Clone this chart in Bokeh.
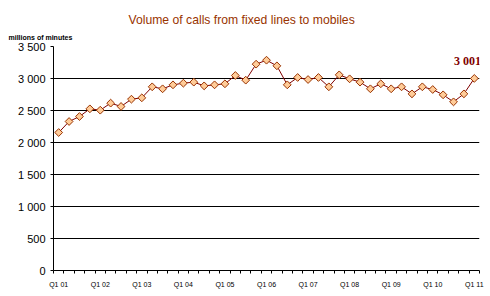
import math
from bokeh.plotting import figure
from bokeh.models import FixedTicker, Label, ColumnDataSource, Range1d, Title
from bokeh.embed import file_html
from bokeh.resources import INLINE

quarters = list(range(41))
values = [2156, 2328, 2406, 2526, 2505, 2615, 2563, 2677, 2698, 2870,
          2839, 2901, 2927, 2943, 2885, 2901, 2917, 3047, 2974, 3224,
          3286, 3198, 2901, 3016, 2984, 3016, 2870, 3057, 2995, 2943,
          2839, 2917, 2839, 2870, 2760, 2870, 2828, 2745, 2635, 2760,
          3001]
year_labels = ["Q1 01", "Q1 02", "Q1 03", "Q1 04", "Q1 05", "Q1 06",
               "Q1 07", "Q1 08", "Q1 09", "Q1 10", "Q1 11"]
y_ticks = [0, 500, 1000, 1500, 2000, 2500, 3000, 3500]
y_tick_labels = ["0", "500", "1 000", "1 500", "2 000", "2 500", "3 000", "3 500"]
title_text = "Volume of calls from fixed lines to mobiles"
unit_text = "millions of minutes"
last_label = "3 001"

p = figure(width=490, height=296, output_backend="svg", toolbar_location=None,
           x_range=Range1d(-0.5, 40.5), y_range=Range1d(0, 3500),
           min_border_left=53, min_border_right=11, min_border_top=46,
           min_border_bottom=26, background_fill_color="white",
           border_fill_color="white")
p.outline_line_color = None
p.xgrid.visible = False
p.ygrid.grid_line_color = "black"
p.ygrid.grid_line_width = 1
p.ygrid.ticker = FixedTicker(ticks=y_ticks)

p.title.text = title_text
p.title.align = "left"
p.title.offset = 75
p.title.text_color = "#993300"
p.title.text_font = "Liberation Sans"
p.title.text_font_size = "12.2px"
p.title.text_font_style = "normal"
p.title.standoff = -3

unit_title = Title(text=unit_text, align="left", offset=-45,
                   text_color="black", text_font="Liberation Sans",
                   text_font_size="7px", text_font_style="bold", standoff=12)
p.add_layout(unit_title, "above")

# x axis
p.xaxis.ticker = FixedTicker(ticks=[i * 4 for i in range(len(year_labels))],
                             minor_ticks=[q - 0.5 for q in range(42)])
p.xaxis.major_label_overrides = {i * 4: lab for i, lab in enumerate(year_labels)}
p.xaxis.major_tick_line_color = None
p.xaxis.minor_tick_out = 3
p.xaxis.minor_tick_in = 0
p.xaxis.minor_tick_line_color = "black"
p.xaxis.axis_line_color = "black"
p.xaxis.major_label_text_color = "black"
p.xaxis.major_label_text_font = "Liberation Sans"
p.xaxis.major_label_text_font_size = "7px"
p.xaxis.major_label_standoff = 4

# y axis
p.yaxis.ticker = FixedTicker(ticks=y_ticks)
p.yaxis.major_label_overrides = {v: s for v, s in zip(y_ticks, y_tick_labels)}
p.yaxis.major_tick_out = 3
p.yaxis.major_tick_in = 0
p.yaxis.minor_tick_line_color = None
p.yaxis.axis_line_color = "black"
p.yaxis.major_tick_line_color = "black"
p.yaxis.major_label_text_color = "black"
p.yaxis.major_label_text_font = "Liberation Sans"
p.yaxis.major_label_text_font_size = "11px"
p.yaxis.major_label_standoff = 5

src = ColumnDataSource(dict(x=quarters, y=values))
p.line("x", "y", source=src, line_color="#800000", line_width=1)
p.scatter("x", "y", source=src, marker="square", angle=math.pi / 4, size=5.5,
          fill_color="#FFCC99", line_color="#993300", line_width=1)

p.add_layout(Label(x=40.65, y=3266, text=last_label, text_align="right",
                   text_baseline="middle", text_color="#800000",
                   text_font="Liberation Serif", text_font_size="12px",
                   text_font_style="bold"))

open("out.html", "w").write(file_html(p, INLINE))
